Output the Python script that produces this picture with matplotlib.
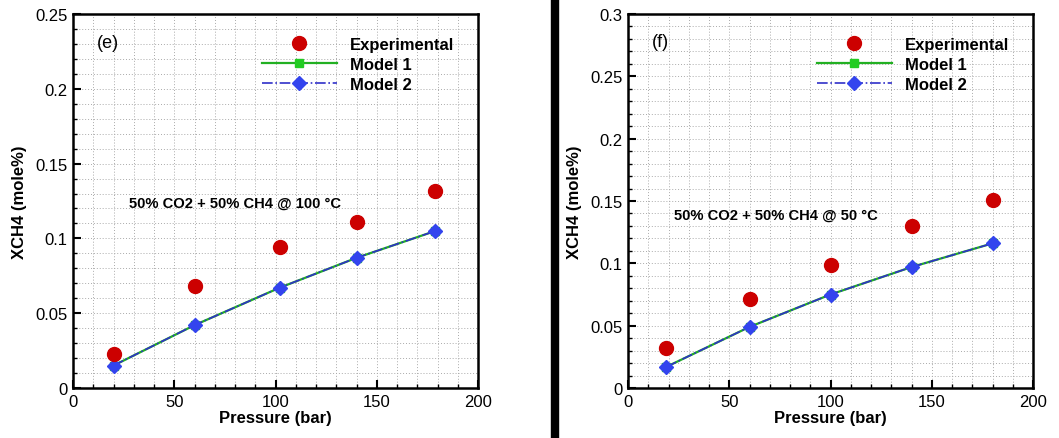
import numpy as np
import matplotlib.pyplot as plt
from matplotlib.lines import Line2D
from matplotlib.patches import Rectangle
from matplotlib.ticker import MultipleLocator

plt.rcParams['font.family'] = ['Liberation Sans', 'DejaVu Sans']

# panel (e): 100 C
p_e = [20, 60, 102, 140, 179]
exp_e = [0.023, 0.068, 0.094, 0.111, 0.132]
m1_e = [0.015, 0.042, 0.067, 0.087, 0.105]
m2_e = [0.015, 0.042, 0.067, 0.087, 0.105]

# panel (f): 50 C
p_f = [19, 60, 100, 140, 180]
exp_f = [0.032, 0.071, 0.099, 0.130, 0.151]
m1_f = [0.017, 0.049, 0.075, 0.097, 0.116]
m2_f = [0.017, 0.049, 0.075, 0.097, 0.116]

W, H = 1059, 439
fig = plt.figure(figsize=(W / 100, H / 100), dpi=100)


def panel(rect, p, ex, m1, m2, ymax, ystep, tag, note, tag_xy, note_xy):
    ax = fig.add_axes(rect)
    ax.plot(p, m1, color='#22b022', lw=1.6, marker='s', ms=6,
            mfc='#22cc22', mec='#22cc22', label='Model 1', zorder=3)
    ax.plot(p, m2, color='#3030c8', lw=1.2, ls='-.', marker='D', ms=7,
            mfc='#3344ee', mec='#3344ee', label='Model 2', zorder=4)
    ax.plot(p, ex, ls='none', marker='o', ms=10, mfc='#cc0000',
            mec='#cc0000', label='Experimental', zorder=5)
    ax.set_xlim(0, 200)
    ax.set_ylim(0, ymax)
    ax.xaxis.set_major_locator(MultipleLocator(50))
    ax.xaxis.set_minor_locator(MultipleLocator(10))
    ax.yaxis.set_major_locator(MultipleLocator(ystep))
    ax.yaxis.set_minor_locator(MultipleLocator(0.01))
    ax.grid(which='both', color='#aaaaaa', ls=(0, (1, 2)), lw=0.7)
    ax.set_axisbelow(True)
    ax.tick_params(which='major', direction='in', length=6, width=1.5,
                   labelsize=12, pad=4)
    ax.tick_params(which='minor', direction='in', length=3, width=1)
    for s in ax.spines.values():
        s.set_linewidth(1.8)
    ax.yaxis.set_major_formatter(plt.FuncFormatter(lambda v, _: f'{v:g}'))
    ax.set_xlabel('Pressure (bar)', fontsize=12, fontweight='bold', labelpad=1)
    ax.set_ylabel('XCH4 (mole%)', fontsize=12, fontweight='bold', labelpad=6)
    ax.text(*tag_xy, tag, fontsize=13)
    ax.text(*note_xy, note, fontsize=10.6, fontweight='bold')
    handles = [
        Line2D([], [], ls='none', marker='o', ms=10, mfc='#cc0000', mec='#cc0000'),
        Line2D([], [], color='#22b022', lw=1.6, marker='s', ms=6,
               mfc='#22cc22', mec='#22cc22'),
        Line2D([], [], color='#3030c8', lw=1.2, ls='-.', marker='D', ms=7,
               mfc='#3344ee', mec='#3344ee'),
    ]
    ax.legend(handles, ['Experimental', 'Model 1', 'Model 2'],
              loc='upper left', bbox_to_anchor=(0.445, 0.96),
              frameon=False, borderpad=0, handlelength=4.5,
              handletextpad=0.8, labelspacing=0.3,
              prop={'weight': 'bold', 'size': 12})
    return ax


panel([73 / W, 1 - 389 / H, 405 / W, 374 / H], p_e, exp_e, m1_e, m2_e,
      0.25, 0.05, '(e)', '50% CO2 + 50% CH4 @ 100 \u00b0C',
      (12, 0.228), (27.5, 0.121))
panel([628 / W, 1 - 389 / H, 405 / W, 374 / H], p_f, exp_f, m1_f, m2_f,
      0.3, 0.05, '(f)', '50% CO2 + 50% CH4 @ 50 \u00b0C',
      (12, 0.274), (22.5, 0.136))

fig.patches.append(Rectangle((551 / W, 0), 7 / W, 1, transform=fig.transFigure,
                             color='black', zorder=10))

fig.savefig('out.png', dpi=100)
